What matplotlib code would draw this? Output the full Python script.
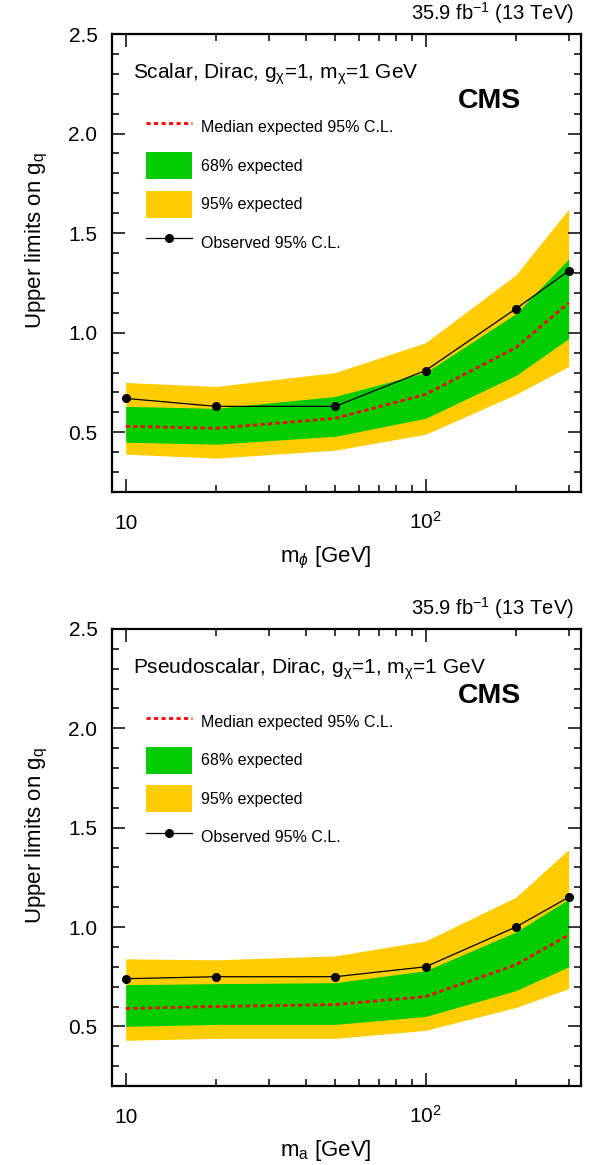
import numpy as np
import matplotlib
matplotlib.use('Agg')
import matplotlib.pyplot as plt
from matplotlib.lines import Line2D
from matplotlib.patches import Patch
from matplotlib.ticker import FixedLocator, FixedFormatter, LogLocator, NullFormatter, MultipleLocator

plt.rcParams['font.family'] = ['Liberation Sans', 'DejaVu Sans']
plt.rcParams['mathtext.fontset'] = 'custom'
plt.rcParams['mathtext.rm'] = 'Liberation Sans'
plt.rcParams['mathtext.it'] = 'Liberation Sans:italic'
plt.rcParams['mathtext.bf'] = 'Liberation Sans:bold'

# mediator masses (GeV)
mass = [10, 20, 50, 100, 200, 300]

# scalar
obs_s = [0.67, 0.63, 0.63, 0.81, 1.12, 1.31]
exp_s = [0.53, 0.52, 0.57, 0.69, 0.925, 1.15]
lo1_s = [0.45, 0.44, 0.48, 0.57, 0.785, 0.97]
hi1_s = [0.63, 0.62, 0.68, 0.80, 1.095, 1.37]
lo2_s = [0.39, 0.37, 0.41, 0.49, 0.69, 0.83]
hi2_s = [0.75, 0.73, 0.80, 0.95, 1.29, 1.62]

# pseudoscalar
obs_p = [0.74, 0.75, 0.75, 0.80, 1.00, 1.15]
exp_p = [0.59, 0.60, 0.61, 0.65, 0.81, 0.96]
lo1_p = [0.50, 0.51, 0.51, 0.55, 0.68, 0.80]
hi1_p = [0.71, 0.715, 0.72, 0.78, 0.975, 1.14]
lo2_p = [0.43, 0.44, 0.44, 0.48, 0.595, 0.69]
hi2_p = [0.84, 0.835, 0.855, 0.93, 1.15, 1.39]

GREEN = '#00cc00'
YELLOW = '#ffcc00'

titles = [r'Scalar, Dirac, g$_{\mathregular{χ}}$=1, m$_{\mathregular{χ}}$=1 GeV',
          r'Pseudoscalar, Dirac, g$_{\mathregular{χ}}$=1, m$_{\mathregular{χ}}$=1 GeV']
xlabels = [r'm$_{\phi}$ [GeV]', r'm$_{\mathregular{a}}$ [GeV]']


def panel(ax, obs, exp, lo1, hi1, lo2, hi2, title, xlabel):
    ax.fill_between(mass, lo2, hi2, color=YELLOW, lw=0)
    ax.fill_between(mass, lo1, hi1, color=GREEN, lw=0)
    ax.plot(mass, exp, color='red', lw=2, linestyle=(0, (1.5, 1.2)))
    ax.plot(mass, obs, color='black', lw=0.9, marker='o', ms=5.5)

    ax.set_xscale('log')
    ax.set_xlim(9.0, 330)
    ax.set_ylim(0.2, 2.5)
    ax.xaxis.set_major_locator(FixedLocator([10, 100]))
    ax.xaxis.set_major_formatter(FixedFormatter(['10', r'10$^{\mathregular{2}}$']))
    ax.xaxis.set_minor_locator(LogLocator(base=10, subs=np.arange(2, 10)))
    ax.xaxis.set_minor_formatter(NullFormatter())
    ax.yaxis.set_major_locator(MultipleLocator(0.5))
    ax.yaxis.set_minor_locator(MultipleLocator(0.1))

    ax.tick_params(which='both', direction='in', top=True, right=True, width=1.1, labelsize=15)
    ax.tick_params(which='major', length=9.5)
    ax.tick_params(which='minor', length=5)
    ax.tick_params(axis='y', pad=10.5)
    ax.tick_params(axis='x', pad=26.5)
    plt.setp(ax.get_xticklabels(), va='baseline')
    for s in ax.spines.values():
        s.set_linewidth(1.6)

    ax.set_xlabel(xlabel, fontsize=16, va='baseline')
    ax.xaxis.set_label_coords(0.456, -0.153)
    ax.set_ylabel(r'Upper limits on g$_{\mathregular{q}}$', fontsize=16)
    ax.yaxis.label.set_va('center')
    ax.yaxis.set_label_coords(-0.16, 0.548)

    ax.text(0.045, 0.902, title, transform=ax.transAxes, fontsize=15, va='baseline', ha='left')
    ax.text(0.804, 0.854, 'CMS', transform=ax.transAxes, fontsize=20.5, fontweight='bold',
            va='center', ha='center')
    ax.text(0.985, 1.031, r'35.9 fb$^{\mathregular{-1}}$ (13 TeV)', transform=ax.transAxes,
            fontsize=14.5, ha='right', va='baseline')

    handles = [Line2D([], [], color='red', lw=2, linestyle=(0, (1.5, 1.2))),
               Patch(facecolor=GREEN, edgecolor='none'),
               Patch(facecolor=YELLOW, edgecolor='none'),
               Line2D([], [], color='black', lw=0.9, marker='o', ms=5.5)]
    labels = ['Median expected 95% C.L.', '68% expected', '95% expected', 'Observed 95% C.L.']
    ax.legend(handles, labels, loc='upper left', bbox_to_anchor=(0.0725, 0.826),
              frameon=False, fontsize=11.5, borderpad=0, borderaxespad=0,
              handlelength=2.875, handleheight=2.22, labelspacing=0.72,
              handletextpad=0.56, numpoints=1)


fig = plt.figure(figsize=(5.9, 11.65), dpi=100)
ax1 = fig.add_axes([0.1898, 0.5777, 0.795, 0.3931])
ax2 = fig.add_axes([0.1898, 0.0678, 0.795, 0.3923])

panel(ax1, obs_s, exp_s, lo1_s, hi1_s, lo2_s, hi2_s, titles[0], xlabels[0])
panel(ax2, obs_p, exp_p, lo1_p, hi1_p, lo2_p, hi2_p, titles[1], xlabels[1])

fig.savefig('out.png', dpi=100)
